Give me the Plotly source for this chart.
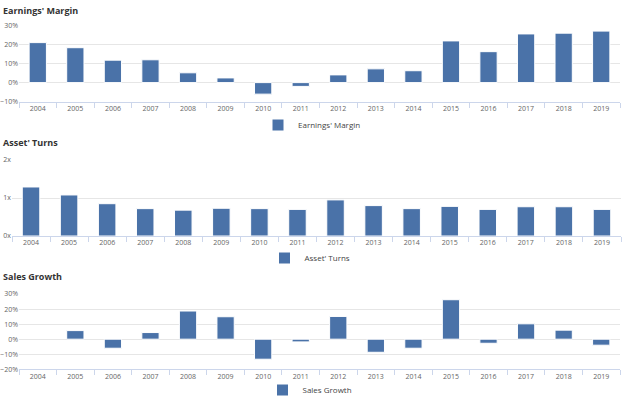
import plotly.graph_objects as go

years = [str(y) for y in range(2004, 2020)]
earnings_margin = [21.2, 18.5, 11.9, 12.1, 5.2, 2.5, -6.1, -2.0, 4.1, 7.3, 6.3, 22.1, 16.4, 25.8, 26.2, 27.3]
asset_turns = [1.29, 1.08, 0.85, 0.72, 0.68, 0.73, 0.72, 0.70, 0.95, 0.80, 0.72, 0.78, 0.70, 0.77, 0.77, 0.70]
sales_growth = [None, 5.7, -6.0, 4.4, 18.7, 14.9, -13.3, -1.8, 15.1, -8.7, -6.0, 26.2, -2.7, 10.2, 6.0, -4.0]

titles = ["Earnings' Margin", "Asset' Turns", "Sales Growth"]

W, H = 624, 396
BAR = "#4a72a8"
GRID = "#e6e6e6"
AXL = "#ccd6eb"
TICKF = dict(family="Open Sans, Arial, sans-serif", size=7, color="#666666")

def px_y(p):
    return 1 - p / H

def px_x(p):
    return p / W

fig = go.Figure()
series = [earnings_margin, asset_turns, sales_growth]
for i, (name, vals) in enumerate(zip(titles, series)):
    sfx = "" if i == 0 else str(i + 1)
    fig.add_trace(go.Bar(
        x=years, y=vals, name=name,
        marker=dict(color=BAR, line=dict(color="#ffffff", width=1)),
        xaxis="x" + sfx, yaxis="y" + sfx,
        legend="legend" + sfx, showlegend=True,
        hoverinfo="x+y",
    ))

def xaxis(dom, anchor):
    return dict(domain=dom, anchor=anchor, type="category", showline=True, linecolor=AXL,
                linewidth=1, ticks="outside", tickson="boundaries", ticklen=5, tickcolor=AXL,
                tickfont=TICKF, showgrid=False, fixedrange=True, automargin=False)

def yaxis(dom, anchor, rng, dtick, sfx):
    return dict(domain=dom, anchor=anchor, range=rng, dtick=dtick, ticksuffix=sfx,
                showgrid=True, gridcolor=GRID, gridwidth=1, zeroline=False, showline=False,
                tickfont=TICKF, ticks="", fixedrange=True, automargin=False)

fig.update_layout(
    width=W, height=H,
    margin=dict(l=0, r=0, t=0, b=0, autoexpand=False),
    paper_bgcolor="white", plot_bgcolor="white",
    bargap=0.54,
    xaxis=xaxis([px_x(19), px_x(620)], "y"),
    yaxis=yaxis([px_y(101.5), px_y(26)], "x", [-10, 30], 10, "%"),
    xaxis2=xaxis([px_x(12), px_x(621)], "y2"),
    yaxis2=yaxis([px_y(236), px_y(160)], "x2", [0, 2], 1, "x"),
    xaxis3=xaxis([px_x(19), px_x(620)], "y3"),
    yaxis3=yaxis([px_y(369.3), px_y(294)], "x3", [-20, 30], 10, "%"),
)

legfont = dict(family="Open Sans, Arial, sans-serif", size=8, color="#444444")
for key, ypx, xc in [("legend", 125, 312), ("legend2", 258, 310), ("legend3", 390, 310)]:
    fig.update_layout({key: dict(x=px_x(xc), xanchor="center", y=px_y(ypx), yanchor="middle",
                                 orientation="h", font=legfont, bgcolor="rgba(0,0,0,0)",
                                 itemclick=False, itemdoubleclick=False, itemwidth=30)})

for t, ypx in zip(titles, [10, 142, 276]):
    fig.add_annotation(text="<b>" + t + "</b>", x=px_x(1), y=px_y(ypx), xref="paper", yref="paper",
                       xanchor="left", yanchor="middle", showarrow=False,
                       font=dict(family="Open Sans, Arial, sans-serif", size=9, color="#333333"))

fig.write_html("out.html", config={"displayModeBar": False},
               post_script="document.body.style.margin='0px';document.body.style.overflow='hidden';")
